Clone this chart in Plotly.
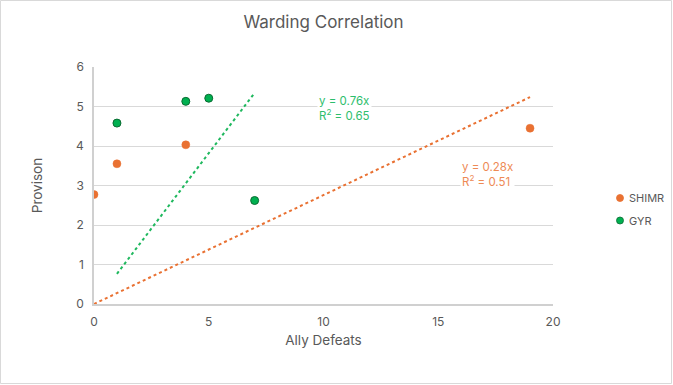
import numpy as np
import plotly.graph_objects as go

shimr_x = [0, 1, 4, 19]
shimr_y = [2.77, 3.55, 4.03, 4.45]
gyr_x = [1, 4, 5, 7]
gyr_y = [4.58, 5.13, 5.21, 2.62]
x_ticks = [0, 5, 10, 15, 20]
y_ticks = [0, 1, 2, 3, 4, 5, 6]
series_names = ["SHIMR", "GYR"]

ORANGE = "#E97132"
GREEN = "#00B050"
GRAY = "#595959"
FONT = "Inter"

W, H = 673, 385
L, R, T, B = 94, 120, 67, 81
PW, PH = W - L - R, H - T - B

def px_x(p):
    return (p - L) / PW

def px_y(p):
    return (H - B - p) / PH

def fit_origin(x, y):
    x = np.array(x, float); y = np.array(y, float)
    return (x * y).sum() / (x * x).sum()

fig = go.Figure()

for xs, ys, lc in [(shimr_x, shimr_y, ORANGE), (gyr_x, gyr_y, "#1FB85E")]:
    m = fit_origin(xs, ys)
    tx = np.linspace(min(xs), max(xs), 2)
    fig.add_trace(go.Scatter(x=tx, y=m * tx, mode="lines", showlegend=False,
                             line=dict(color=lc, width=2, dash="dot"), hoverinfo="skip"))

fig.add_trace(go.Scatter(x=shimr_x, y=shimr_y, mode="markers", name=series_names[0],
                         showlegend=False,
                         marker=dict(color=ORANGE, size=8, line=dict(color=ORANGE, width=0.5))))
fig.add_trace(go.Scatter(x=gyr_x, y=gyr_y, mode="markers", name=series_names[1],
                         showlegend=False,
                         marker=dict(color=GREEN, size=8, line=dict(color="#0A6B32", width=1))))

fig.add_annotation(x=9.7, y=4.94, xref="x", yref="y", xanchor="left", yanchor="middle",
                   align="left", showarrow=False, bgcolor="white",
                   text="y = 0.76x<br>R<sup>2</sup> = 0.65",
                   font=dict(family=FONT, size=11.5, color="#2DBE6C"))
fig.add_annotation(x=15.95, y=3.29, xref="x", yref="y", xanchor="left", yanchor="middle",
                   align="left", showarrow=False, bgcolor="white",
                   text="y = 0.28x<br>R<sup>2</sup> = 0.51",
                   font=dict(family=FONT, size=11.5, color="#EE8A55"))

# legend (drawn manually to match compact spacing)
for name, col, lcol, py in [(series_names[0], ORANGE, ORANGE, 198), (series_names[1], GREEN, "#0A6B32", 220.5)]:
    fig.add_shape(type="circle", xref="paper", yref="paper",
                  x0=px_x(616.5), x1=px_x(623.5), y0=px_y(py + 3.5), y1=px_y(py - 3.5),
                  fillcolor=col, line=dict(color=lcol, width=0.8))
    fig.add_annotation(x=px_x(627), y=px_y(py), xref="paper", yref="paper",
                       xanchor="left", yanchor="middle", showarrow=False, text=name,
                       font=dict(family=FONT, size=11, color=GRAY))

fig.update_layout(
    width=W, height=H,
    margin=dict(l=L, r=R, t=T, b=B),
    paper_bgcolor="white", plot_bgcolor="white",
    font=dict(family=FONT, color=GRAY, size=11),
    title=dict(text="Warding Correlation", x=0.5, xref="paper", xanchor="center",
               y=1 - 22 / H, yanchor="middle",
               font=dict(family=FONT, size=17, color=GRAY)),
    showlegend=False,
    xaxis=dict(range=[0, 20], tickvals=x_ticks, showgrid=False, zeroline=False,
               showline=True, linecolor="#D0D0D0", linewidth=1.5, ticks="",
               tickfont=dict(size=12, color=GRAY), automargin=False, ticklabelstandoff=6,
               title=dict(text="Ally Defeats", font=dict(size=13.5, color=GRAY), standoff=7)),
    yaxis=dict(range=[0, 6], tickvals=y_ticks, showgrid=True, gridcolor="#D9D9D9",
               gridwidth=1, zeroline=False, showline=True, linecolor="#D0D0D0",
               linewidth=1.5, ticks="", tickfont=dict(size=12, color=GRAY), automargin=False,
               ticklabelstandoff=6,
               title=dict(text="Provison", font=dict(size=13.5, color=GRAY), standoff=30)),
)

fig.add_shape(type="rect", xref="paper", yref="paper",
              x0=px_x(0.5), x1=px_x(671.5), y0=px_y(383.5), y1=px_y(0.5),
              line=dict(color="#D9D9D9", width=1), fillcolor="rgba(0,0,0,0)", layer="below")

fig.write_html("out.html", config={"displayModeBar": False},
               post_script="document.body.style.margin='0';")
